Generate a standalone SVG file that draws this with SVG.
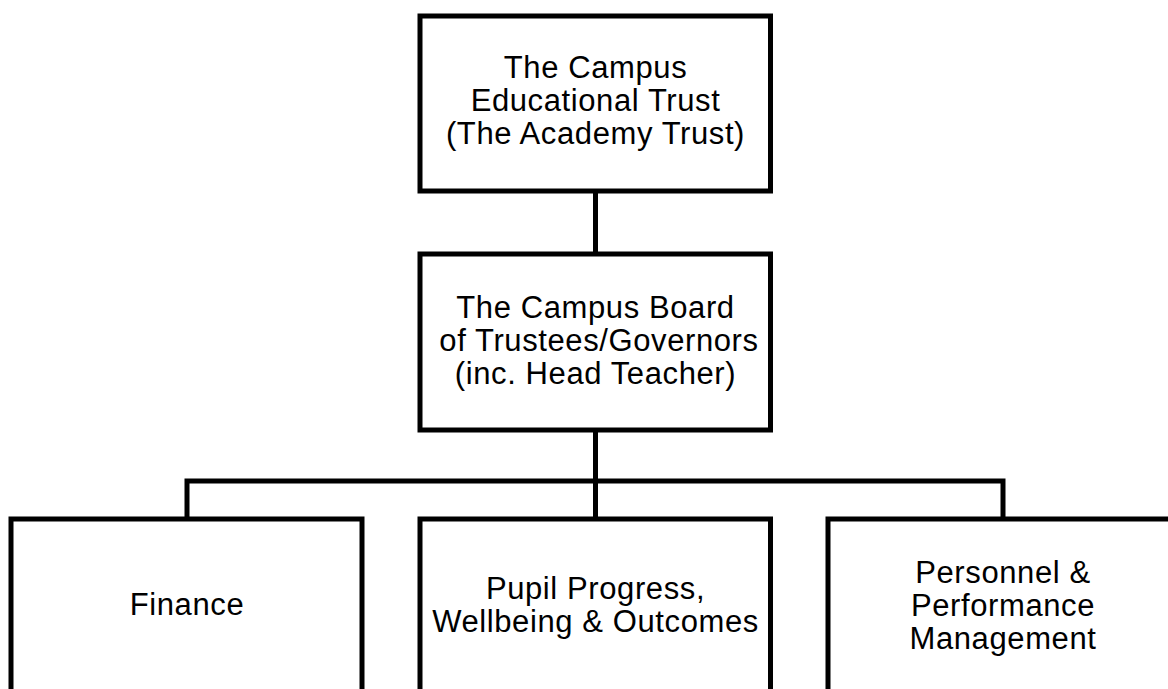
<svg xmlns="http://www.w3.org/2000/svg" width="1168" height="689" viewBox="0 0 1168 689">
  <style>
    .box { fill: #ffffff; stroke: #000000; stroke-width: 5; }
    .link { fill: none; stroke: #000000; stroke-width: 5; }
    .label { font-family: "Liberation Sans", Arial, Helvetica, sans-serif; font-size: 31px; letter-spacing: 0.6px; fill: #000000; text-anchor: middle; }
  </style>
  <rect width="1168" height="689" fill="#ffffff"/>

  <g id="connectors">
    <path class="link" d="M595.5 191 V254"/>
    <path class="link" d="M595.5 430 V519"/>
    <path class="link" d="M187 519 V481 H1003 V519"/>
  </g>

  <g id="trust">
    <rect class="box" x="420" y="16" width="350.5" height="175"/>
    <text class="label" x="595.5" y="78">The Campus</text>
    <text class="label" x="595.5" y="111">Educational Trust</text>
    <text class="label" x="595.5" y="144">(The Academy Trust)</text>
  </g>

  <g id="board">
    <rect class="box" x="420" y="254" width="350.5" height="176"/>
    <text class="label" x="595.5" y="318">The Campus Board</text>
    <text class="label" x="599" y="351">of Trustees/Governors</text>
    <text class="label" x="595.5" y="384">(inc. Head Teacher)</text>
  </g>

  <g id="finance">
    <rect class="box" x="11" y="519" width="351" height="200"/>
    <text class="label" x="187" y="615">Finance</text>
  </g>

  <g id="pupil-progress">
    <rect class="box" x="420" y="519" width="350.5" height="200"/>
    <text class="label" x="595.5" y="599">Pupil Progress,</text>
    <text class="label" x="595.5" y="632">Wellbeing &amp; Outcomes</text>
  </g>

  <g id="personnel">
    <rect class="box" x="828" y="519" width="360" height="200"/>
    <text class="label" x="1003" y="583">Personnel &amp;</text>
    <text class="label" x="1003" y="616">Performance</text>
    <text class="label" x="1003" y="649">Management</text>
  </g>
</svg>
